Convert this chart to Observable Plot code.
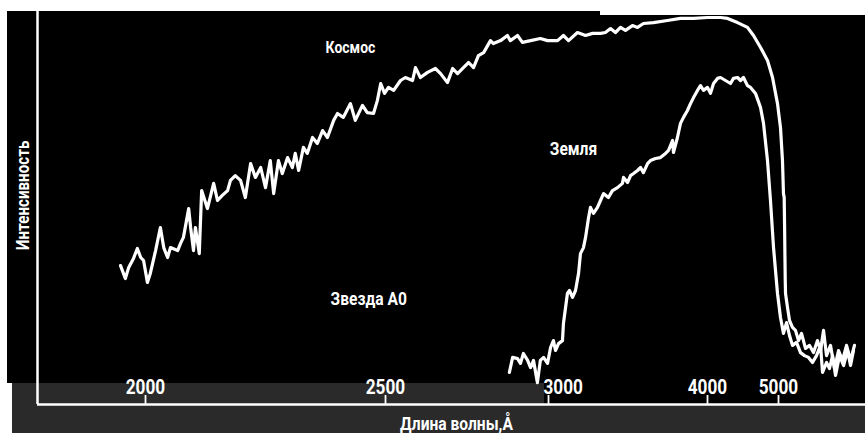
<!DOCTYPE html>
<html>
<head>
<meta charset="utf-8">
<script src="https://cdn.jsdelivr.net/npm/d3@7"></script>
<script src="https://cdn.jsdelivr.net/npm/@observablehq/plot@0.6"></script>
<style>
  html, body { margin: 0; padding: 0; background: #ffffff; width: 865px; height: 433px; overflow: hidden; }
  .bg { position: absolute; }
  #chart { position: absolute; left: 0; top: 0; }
  #chart svg { font-family: Roboto, "Noto Sans", sans-serif; font-weight: bold; }
</style>
</head>
<body>
<div class="bg" style="left:7px; top:11px; width:858px; height:372px; background:#000;"></div>
<div class="bg" style="left:600px; top:11px; width:265px; height:4px; background:#fff;"></div>
<div class="bg" style="left:12px; top:383px; width:853px; height:50px; background:#2a2a2a;"></div>
<div class="bg" style="left:544px; top:383px; width:321px; height:21px; background:#000;"></div>
<div id="chart"></div>
<script>
// Wavelength (Å) and intensity (arbitrary units)
const spaceWave = [1948,1958,1965,1975,1983,1990,1996,2004,2010,2021,2031,2038,2046,2052,2067,2073,2079,2090,2094,2100,2104,2112,2117,2129,2142,2150,2160,2171,2177,2187,2198,2208,2219,2229,2240,2250,2260,2267,2277,2285,2296,2306,2312,2319,2329,2337,2348,2358,2369,2379,2392,2400,2412,2427,2437,2452,2462,2475,2483,2490,2498,2509,2525,2546,2561,2583,2592,2607,2629,2653,2669,2690,2706,2721,2739,2755,2770,2785,2801,2822,2831,2853,2874,2883,2905,2920,2945,2975,2997,3057,3094,3126,3182,3233,3277,3327,3358,3390,3421,3453,3484,3528,3560,3597,3660,3748,3830,3912,4000,4183,4282,4423,4563,4648,4747,4845,4916,4986,5028,5056,5070,5080,5086,5090,5095,5099,5127,5155,5197,5239,5282,5324,5380,5437,5493,5549,5592,5634,5676,5732,5789,5845,5901,5958,6014,6070];
const spaceIntensity = [46.3,42,45.7,48.7,52,49,48,40.7,43.7,51.3,59,52.3,49,52.3,51.3,53.7,55.7,65.3,59,51.3,59,50.3,71.3,65.3,73.7,68,69.7,71.3,74.7,76.3,74.7,69,80.3,75.7,79,72.3,81.3,70.3,81.3,77,82.3,79,83.7,78,85.7,83.7,89,87,91.3,89,94.7,97,95.7,100.3,94.7,99.7,97.3,97,101.3,107,103.7,105.7,104.7,108,109,108,112.3,109,110.7,112,110.3,107.3,112,110.3,112.3,114,112.3,116.3,117.3,121.3,120.3,121.3,123,121.3,123,120.7,121.3,122,121.3,121.3,123,121.3,124,123,123.7,123.7,124,125.3,124,125.7,124.7,126.3,125.7,127,127.3,128,128.7,128.7,129,129,128.7,127.3,125.7,123,119,114.7,109,100.3,92.3,81.3,70.3,69,59,50.3,41.3,37,32.3,28,25.7,24.7,21.3,23.7,18.7,19.7,17.3,21.3,18,24.7,16.3,19.7,12,18,14.7,19.7,14.7,19.7];

const earthWave = [2880,2890,2905,2914,2923,2936,2945,2954,2966,2975,2985,2997,3013,3031,3044,3063,3088,3094,3119,3132,3151,3170,3189,3201,3220,3233,3252,3264,3283,3308,3327,3346,3377,3402,3434,3465,3472,3497,3516,3535,3560,3579,3597,3623,3641,3673,3704,3736,3755,3780,3786,3811,3830,3849,3874,3893,3912,3937,3956,3975,4000,4042,4085,4141,4183,4254,4324,4366,4423,4465,4507,4563,4606,4676,4747,4789,4845,4887,4930,4986,5028,5070,5113,5155,5197,5254,5310,5366,5423,5479,5535,5592,5620,5676,5718,5761,5803,5859,5916,5972,6014,6056];
const earthIntensity = [10.7,15.7,15.3,13.7,17,14.7,12.3,14.7,7.3,14.7,15.7,13.7,19,21.3,18,20.3,21.3,27,37,38,35.7,38,43.7,50.3,52.3,55.7,62.3,65.7,63.7,65.7,68,70.3,69,71.3,72.3,73.7,75.7,74,76.3,77,78,79,77.3,80.3,81.3,82,82.3,83.7,84.7,88,84,89,93.7,95.7,98,100.3,102.3,104.7,106.3,104.7,105.7,103.7,107,108.7,109,108,107,108.7,109,108,109,106.3,105.7,103.7,99,93.7,81.3,68,52.3,37,29,23.7,27.3,23,19.7,20.7,17.3,16.3,15.7,14,16.3,19.7,10.7,14,12,16.3,9.7,16.3,13,18,13,18];

const tickValues = [2000, 2500, 3000, 4000, 5000];
const seriesLabels = ["Космос", "Земля", "Звезда А0"];
const labelWave = [2427, 3157, 2465];
const labelIntensity = [117.3, 83.3, 33.3];
const yTitle = "Интенсивность";
const xTitle = "Длина волны,Å";

const space = spaceWave.map((w, i) => ({w, v: spaceIntensity[i]}));
const earth = earthWave.map((w, i) => ({w, v: earthIntensity[i]}));
const labels = seriesLabels.map((t, i) => ({t, w: labelWave[i], v: labelIntensity[i]}));

const chart = Plot.plot({
  width: 865,
  height: 433,
  marginTop: 11,
  marginBottom: 29,
  marginLeft: 37,
  marginRight: 0,
  style: {background: "transparent", color: "white", overflow: "visible"},
  x: {type: "linear", domain: [1775, 2000, 2500, 3000, 4000, 5000, 6225], range: [37, 145, 385, 548, 707, 778, 865], axis: null},
  y: {domain: [0, 131], axis: null},
  marks: [
    Plot.ruleX([1775], {stroke: "white", strokeWidth: 2.5}),
    Plot.ruleY([0], {stroke: "white", strokeWidth: 2.5}),
    Plot.ruleX(tickValues, {x: d => d, y1: 0, y2: 3, stroke: "white", strokeWidth: 1.8}),
    Plot.text(tickValues.filter(d => d !== 3000), {x: d => d, y: 0, text: d => String(d), dy: -11, lineAnchor: "bottom", textAnchor: "middle", fill: "white", fontSize: 21, fontWeight: "bold"}),
    Plot.text(tickValues.filter(d => d === 3000), {x: d => d, y: 0, text: d => String(d), dx: -5, dy: -11, lineAnchor: "bottom", textAnchor: "start", fill: "white", fontSize: 21, fontWeight: "bold"}),
    Plot.line(space, {x: "w", y: "v", stroke: "white", strokeWidth: 3.2, strokeLinejoin: "round", strokeLinecap: "round"}),
    Plot.line(earth, {x: "w", y: "v", stroke: "white", strokeWidth: 3.2, strokeLinejoin: "round", strokeLinecap: "round"}),
    Plot.text(labels, {x: "w", y: "v", text: "t", lineAnchor: "bottom", textAnchor: "middle", fill: "white", fontSize: d => d.t === "Космос" ? 17 : 19, fontWeight: "bold"}),
    Plot.text([yTitle], {x: 1744, y: 69.7, text: d => d, rotate: -90, textAnchor: "middle", lineAnchor: "middle", fill: "white", fontSize: 18.5, fontWeight: "bold"}),
    Plot.text([xTitle], {frameAnchor: "bottom", text: d => d, dx: 5, dy: 25, lineAnchor: "bottom", textAnchor: "middle", fill: "white", fontSize: 19, fontWeight: "bold"})
  ]
});
document.getElementById("chart").appendChild(chart);
// condensed lettering, as in the original
d3.select(chart).selectAll("text").each(function () {
  const L = this.getComputedTextLength();
  if (L > 0) {
    this.setAttribute("textLength", (L * 0.82).toFixed(1));
    this.setAttribute("lengthAdjust", "spacingAndGlyphs");
  }
});
</script>
</body>
</html>
